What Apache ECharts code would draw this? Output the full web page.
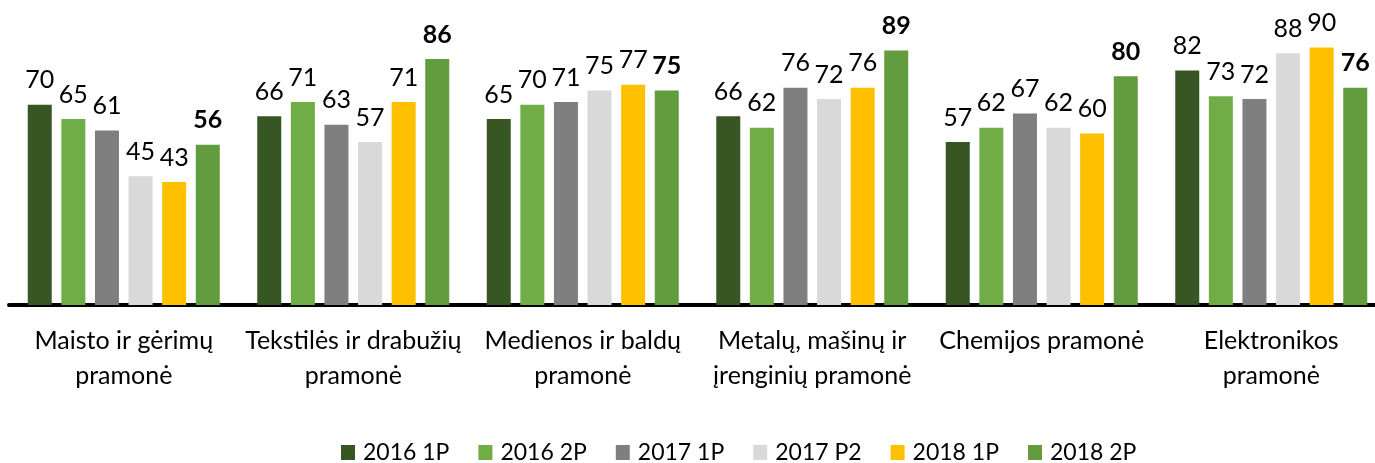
<!DOCTYPE html>
<html><head><meta charset="utf-8">
<script src="https://cdn.jsdelivr.net/npm/echarts@6/dist/echarts.min.js"></script>
<style>html,body{margin:0;padding:0;background:#fff;overflow:hidden}#c{width:1386px;height:463px}</style>
</head><body><div id="c"></div>
<script>
const categories = ["Maisto ir gėrimų\npramonė","Tekstilės ir drabužių\npramonė","Medienos ir baldų\npramonė","Metalų, mašinų ir\nįrenginių pramonė","Chemijos pramonė","Elektronikos\npramonė"];
const seriesNames = ["2016 1P","2016 2P","2017 1P","2017 P2","2018 1P","2018 2P"];
const s2016_1P = [70,66,65,66,57,82];
const s2016_2P = [65,71,70,62,62,73];
const s2017_1P = [61,63,71,76,67,72];
const s2017_P2 = [45,57,75,72,62,88];
const s2018_1P = [43,71,77,76,60,90];
const s2018_2P = [56,86,75,89,80,76];
const colors = ["#375623","#70AD47","#7F7F7F","#D9D9D9","#FFC000","#629C3F"];
const data = [s2016_1P,s2016_2P,s2017_1P,s2017_P2,s2018_1P,s2018_2P];
const font = "Lato, 'Open Sans', sans-serif";
const chart = echarts.init(document.getElementById('c'));
chart.setOption({
  animation:false,
  color: colors,
  grid:{left:9,right:0,top:19,bottom:158,containLabel:false},
  legend:{top:441,left:341,padding:0,itemWidth:14,itemHeight:15,itemGap:29,icon:'rect',
    textStyle:{fontFamily:font,fontSize:23,color:'#000',padding:[0,0,0,3]}},
  xAxis:{type:'category',data:categories,
    axisLine:{lineStyle:{color:'#000',width:4}},axisTick:{show:false},
    axisLabel:{fontFamily:font,fontSize:25,color:'#000',lineHeight:35,margin:18,interval:0}},
  yAxis:{type:'value',min:0,max:100,show:false,splitLine:{show:false}},
  series: data.map((d,i)=>({
    name:seriesNames[i],type:'bar',data:d,barWidth:24,barGap:'40%',barCategoryGap:'17%',
    label:{show:true,position:'top',distance:12,fontFamily:font,fontSize:25,color:'#000',
      fontWeight: i===5?'bold':'normal'}
  }))
});
</script></body></html>
